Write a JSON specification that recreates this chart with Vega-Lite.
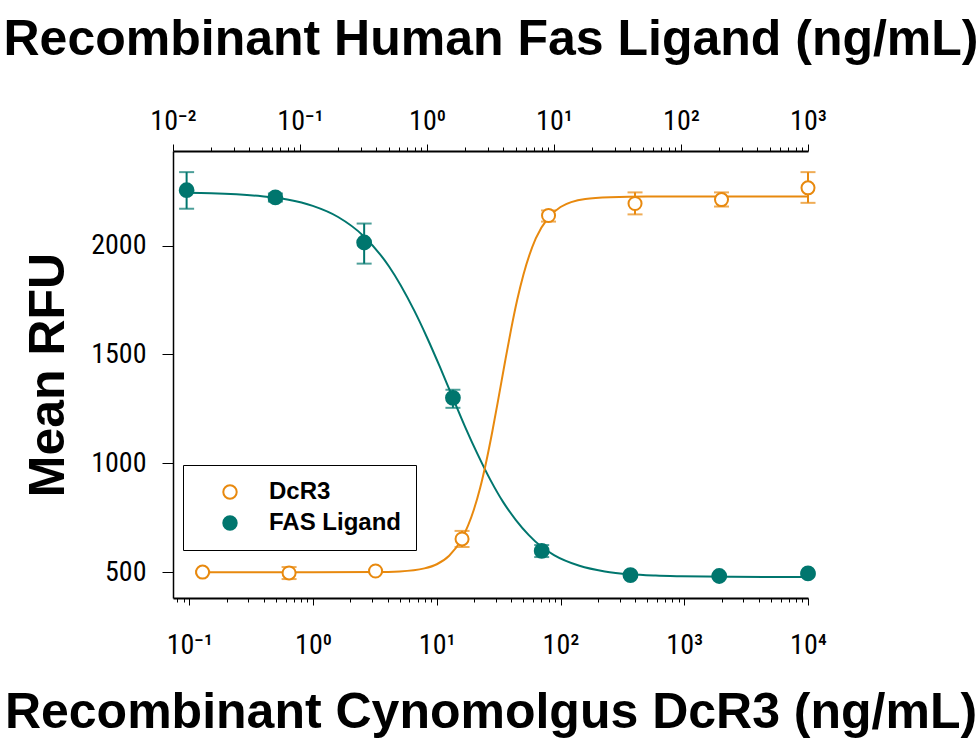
{
  "$schema": "https://vega.github.io/schema/vega-lite/v6.json",
  "width": 635,
  "height": 447,
  "autosize": {"type": "none"},
  "padding": {"left": 173, "top": 151, "right": 172, "bottom": 151},
  "background": "white",
  "config": {
    "view": {"stroke": null},
    "axis": {"grid": false, "domainColor": "black", "tickColor": "black", "labelColor": "black", "titleColor": "black"},
    "legend": {
      "orient": "none", "legendX": 10, "legendY": 314, "title": null,
      "strokeColor": "black", "strokeWidth": 1, "padding": 15,
      "symbolOffset": 20, "labelOffset": 27, "symbolSize": 180, "symbolStrokeWidth": 2, "symbolType": "circle",
      "labelFont": "Liberation Sans", "labelFontWeight": "bold", "labelFontSize": 24, "labelColor": "black",
      "rowPadding": 7, "labelLimit": 300
    }
  },
  "datasets": {
    "fas_curve": [{"c":0.0128,"v":2242},{"c":0.01995,"v":2240},{"c":0.0316,"v":2235},{"c":0.0501,"v":2226},{"c":0.0794,"v":2211},{"c":0.126,"v":2182},{"c":0.1995,"v":2131},{"c":0.316,"v":2044},{"c":0.501,"v":1905},{"c":0.794,"v":1701},{"c":1,"v":1578},{"c":1.259,"v":1445},{"c":1.585,"v":1306},{"c":1.995,"v":1168},{"c":2.512,"v":1040},{"c":3.162,"v":923},{"c":3.981,"v":822},{"c":5.012,"v":740},{"c":6.31,"v":672},{"c":7.943,"v":618},{"c":10,"v":579},{"c":15.85,"v":530},{"c":25.12,"v":504},{"c":39.81,"v":491},{"c":63.1,"v":485},{"c":100,"v":482},{"c":251.2,"v":479},{"c":631,"v":478},{"c":1000,"v":478}],
    "fas_pts": [
      {"series":"FAS Ligand","c":0.0128,"m":2254,"lo":2169,"hi":2337},
      {"series":"FAS Ligand","c":0.064,"m":2221,"lo":2202,"hi":2239},
      {"series":"FAS Ligand","c":0.32,"m":2014,"lo":1917,"hi":2101},
      {"series":"FAS Ligand","c":1.6,"m":1301,"lo":1255,"hi":1338},
      {"series":"FAS Ligand","c":8,"m":598,"lo":570,"hi":625},
      {"series":"FAS Ligand","c":40,"m":487,"lo":480,"hi":494},
      {"series":"FAS Ligand","c":200,"m":483,"lo":477,"hi":489},
      {"series":"FAS Ligand","c":1000,"m":495,"lo":489,"hi":501}
    ],
    "dcr_curve": [{"c":0.128,"v":500},{"c":1,"v":500},{"c":3.162,"v":501},{"c":5.012,"v":504},{"c":7.943,"v":518},{"c":10,"v":537},{"c":12.59,"v":576},{"c":15.85,"v":651},{"c":19.95,"v":788},{"c":22.39,"v":887},{"c":25.12,"v":1009},{"c":28.18,"v":1150},{"c":31.62,"v":1304},{"c":35.48,"v":1462},{"c":39.81,"v":1614},{"c":44.67,"v":1751},{"c":50.12,"v":1866},{"c":63.1,"v":2033},{"c":79.43,"v":2127},{"c":100,"v":2177},{"c":158.5,"v":2214},{"c":251.2,"v":2222},{"c":501.2,"v":2225},{"c":1000,"v":2225},{"c":3162,"v":2225},{"c":10000,"v":2225}],
    "dcr_pts": [
      {"series":"DcR3","c":0.128,"m":501,"lo":496,"hi":506},
      {"series":"DcR3","c":0.64,"m":497,"lo":469,"hi":524},
      {"series":"DcR3","c":3.2,"m":506,"lo":500,"hi":512},
      {"series":"DcR3","c":16,"m":653,"lo":616,"hi":690},
      {"series":"DcR3","c":80,"m":2138,"lo":2110,"hi":2161},
      {"series":"DcR3","c":400,"m":2193,"lo":2143,"hi":2244},
      {"series":"DcR3","c":2000,"m":2211,"lo":2179,"hi":2244},
      {"series":"DcR3","c":10000,"m":2265,"lo":2196,"hi":2337}
    ]
  },
  "layer": [
    {
      "layer": [
        {
          "data": {"name": "fas_curve"},
          "mark": {"type": "line", "color": "#00766E", "strokeWidth": 2, "interpolate": "monotone"},
          "encoding": {
            "x": {"field": "c", "type": "quantitative"},
            "y": {"field": "v", "type": "quantitative"}
          }
        },
        {
          "data": {"name": "fas_pts"},
          "mark": {"type": "errorbar", "color": "#00766E", "thickness": 2, "ticks": {"size": 15, "thickness": 2, "color": "#00766E"}},
          "encoding": {
            "x": {"field": "c", "type": "quantitative"},
            "y": {"field": "lo", "type": "quantitative"},
            "y2": {"field": "hi"}
          }
        },
        {
          "data": {"name": "fas_pts"},
          "mark": {"type": "point", "shape": "circle", "size": 190, "strokeWidth": 2, "opacity": 1, "fillOpacity": 1},
          "encoding": {
            "x": {"field": "c", "type": "quantitative"},
            "y": {"field": "m", "type": "quantitative"},
            "stroke": {"field": "series", "type": "nominal", "scale": {"domain": ["DcR3", "FAS Ligand"], "range": ["#E8890E", "#00766E"]}, "legend": {"title": null}},
            "fill": {"field": "series", "type": "nominal", "scale": {"domain": ["DcR3", "FAS Ligand"], "range": ["white", "#00766E"]}, "legend": {"title": null}}
          }
        }
      ],
      "encoding": {
        "x": {
          "field": "c", "type": "quantitative",
          "scale": {"type": "log", "domain": [0.01, 1000], "nice": false, "zero": false},
          "axis": {
            "orient": "top",
            "title": "Recombinant Human Fas Ligand (ng/mL)",
            "titleFont": "Liberation Sans", "titleFontWeight": "bold", "titleFontSize": 50, "titlePadding": 43,
            "values": [0.01,0.02,0.03,0.04,0.05,0.06,0.07,0.08,0.09,0.1,0.2,0.3,0.4,0.5,0.6,0.7,0.8,0.9,1,2,3,4,5,6,7,8,9,10,20,30,40,50,60,70,80,90,100,200,300,400,500,600,700,800,900,1000],
            "labelExpr": "indexof([0.01,0.1,1,10,100,1000,10000], datum.value) >= 0 ? '10' + ['⁻²','⁻¹','⁰','¹','²','³','⁴'][round(log(datum.value)/LN10)+2] : ''",
            "labelFont": "Liberation Sans Narrow, Roboto Condensed, DejaVu Sans Condensed, sans-serif", "labelFontSize": 28,
            "labelOverlap": false, "labelFlush": false, "labelPadding": 9,
            "domainWidth": 2,
            "tickSize": {"condition": {"test": "indexof([0.01,0.1,1,10,100,1000,10000], datum.value) >= 0", "value": 7}, "value": 4}
          }
        },
        "y": {
          "type": "quantitative",
          "scale": {"domain": [382, 2434], "nice": false, "zero": false},
          "axis": {
            "title": "Mean RFU", "values": [500, 1000, 1500, 2000], "format": "d",
            "titleFont": "Liberation Sans", "titleFontWeight": "bold", "titleFontSize": 50, "titlePadding": 17,
            "labelFont": "Liberation Sans Narrow, Roboto Condensed, DejaVu Sans Condensed, sans-serif", "labelFontSize": 28,
            "labelPadding": 16, "tickSize": 11, "domainWidth": 1.5
          }
        }
      }
    },
    {
      "layer": [
        {
          "data": {"name": "dcr_curve"},
          "mark": {"type": "line", "color": "#E8890E", "strokeWidth": 2, "interpolate": "monotone"},
          "encoding": {
            "x": {"field": "c", "type": "quantitative"},
            "y": {"field": "v", "type": "quantitative"}
          }
        },
        {
          "data": {"name": "dcr_pts"},
          "mark": {"type": "errorbar", "color": "#E8890E", "thickness": 2, "ticks": {"size": 15, "thickness": 2, "color": "#E8890E"}},
          "encoding": {
            "x": {"field": "c", "type": "quantitative"},
            "y": {"field": "lo", "type": "quantitative"},
            "y2": {"field": "hi"}
          }
        },
        {
          "data": {"name": "dcr_pts"},
          "mark": {"type": "point", "shape": "circle", "size": 170, "strokeWidth": 2, "opacity": 1, "fillOpacity": 1},
          "encoding": {
            "x": {"field": "c", "type": "quantitative"},
            "y": {"field": "m", "type": "quantitative"},
            "stroke": {"field": "series", "type": "nominal", "scale": {"domain": ["DcR3", "FAS Ligand"], "range": ["#E8890E", "#00766E"]}, "legend": {"title": null}},
            "fill": {"field": "series", "type": "nominal", "scale": {"domain": ["DcR3", "FAS Ligand"], "range": ["white", "#00766E"]}, "legend": {"title": null}}
          }
        }
      ],
      "encoding": {
        "x": {
          "field": "c", "type": "quantitative",
          "scale": {"type": "log", "domain": [0.0738, 10000], "nice": false, "zero": false},
          "axis": {
            "orient": "bottom",
            "title": "Recombinant Cynomolgus DcR3 (ng/mL)",
            "titleFont": "Liberation Sans", "titleFontWeight": "bold", "titleFontSize": 50, "titlePadding": 28,
            "values": [0.08,0.09,0.1,0.2,0.3,0.4,0.5,0.6,0.7,0.8,0.9,1,2,3,4,5,6,7,8,9,10,20,30,40,50,60,70,80,90,100,200,300,400,500,600,700,800,900,1000,2000,3000,4000,5000,6000,7000,8000,9000,10000],
            "labelExpr": "indexof([0.01,0.1,1,10,100,1000,10000], datum.value) >= 0 ? '10' + ['⁻²','⁻¹','⁰','¹','²','³','⁴'][round(log(datum.value)/LN10)+2] : ''",
            "labelFont": "Liberation Sans Narrow, Roboto Condensed, DejaVu Sans Condensed, sans-serif", "labelFontSize": 28,
            "labelOverlap": false, "labelFlush": false, "labelPadding": 26,
            "domainWidth": 2,
            "tickSize": {"condition": {"test": "indexof([0.01,0.1,1,10,100,1000,10000], datum.value) >= 0", "value": 7}, "value": 4}
          }
        },
        "y": {
          "type": "quantitative",
          "scale": {"domain": [382, 2434], "nice": false, "zero": false},
          "axis": {
            "title": "Mean RFU", "values": [500, 1000, 1500, 2000], "format": "d",
            "titleFont": "Liberation Sans", "titleFontWeight": "bold", "titleFontSize": 50, "titlePadding": 17,
            "labelFont": "Liberation Sans Narrow, Roboto Condensed, DejaVu Sans Condensed, sans-serif", "labelFontSize": 28,
            "labelPadding": 16, "tickSize": 11, "domainWidth": 1.5
          }
        }
      }
    }
  ],
  "resolve": {"scale": {"x": "independent"}, "axis": {"x": "independent"}}
}
